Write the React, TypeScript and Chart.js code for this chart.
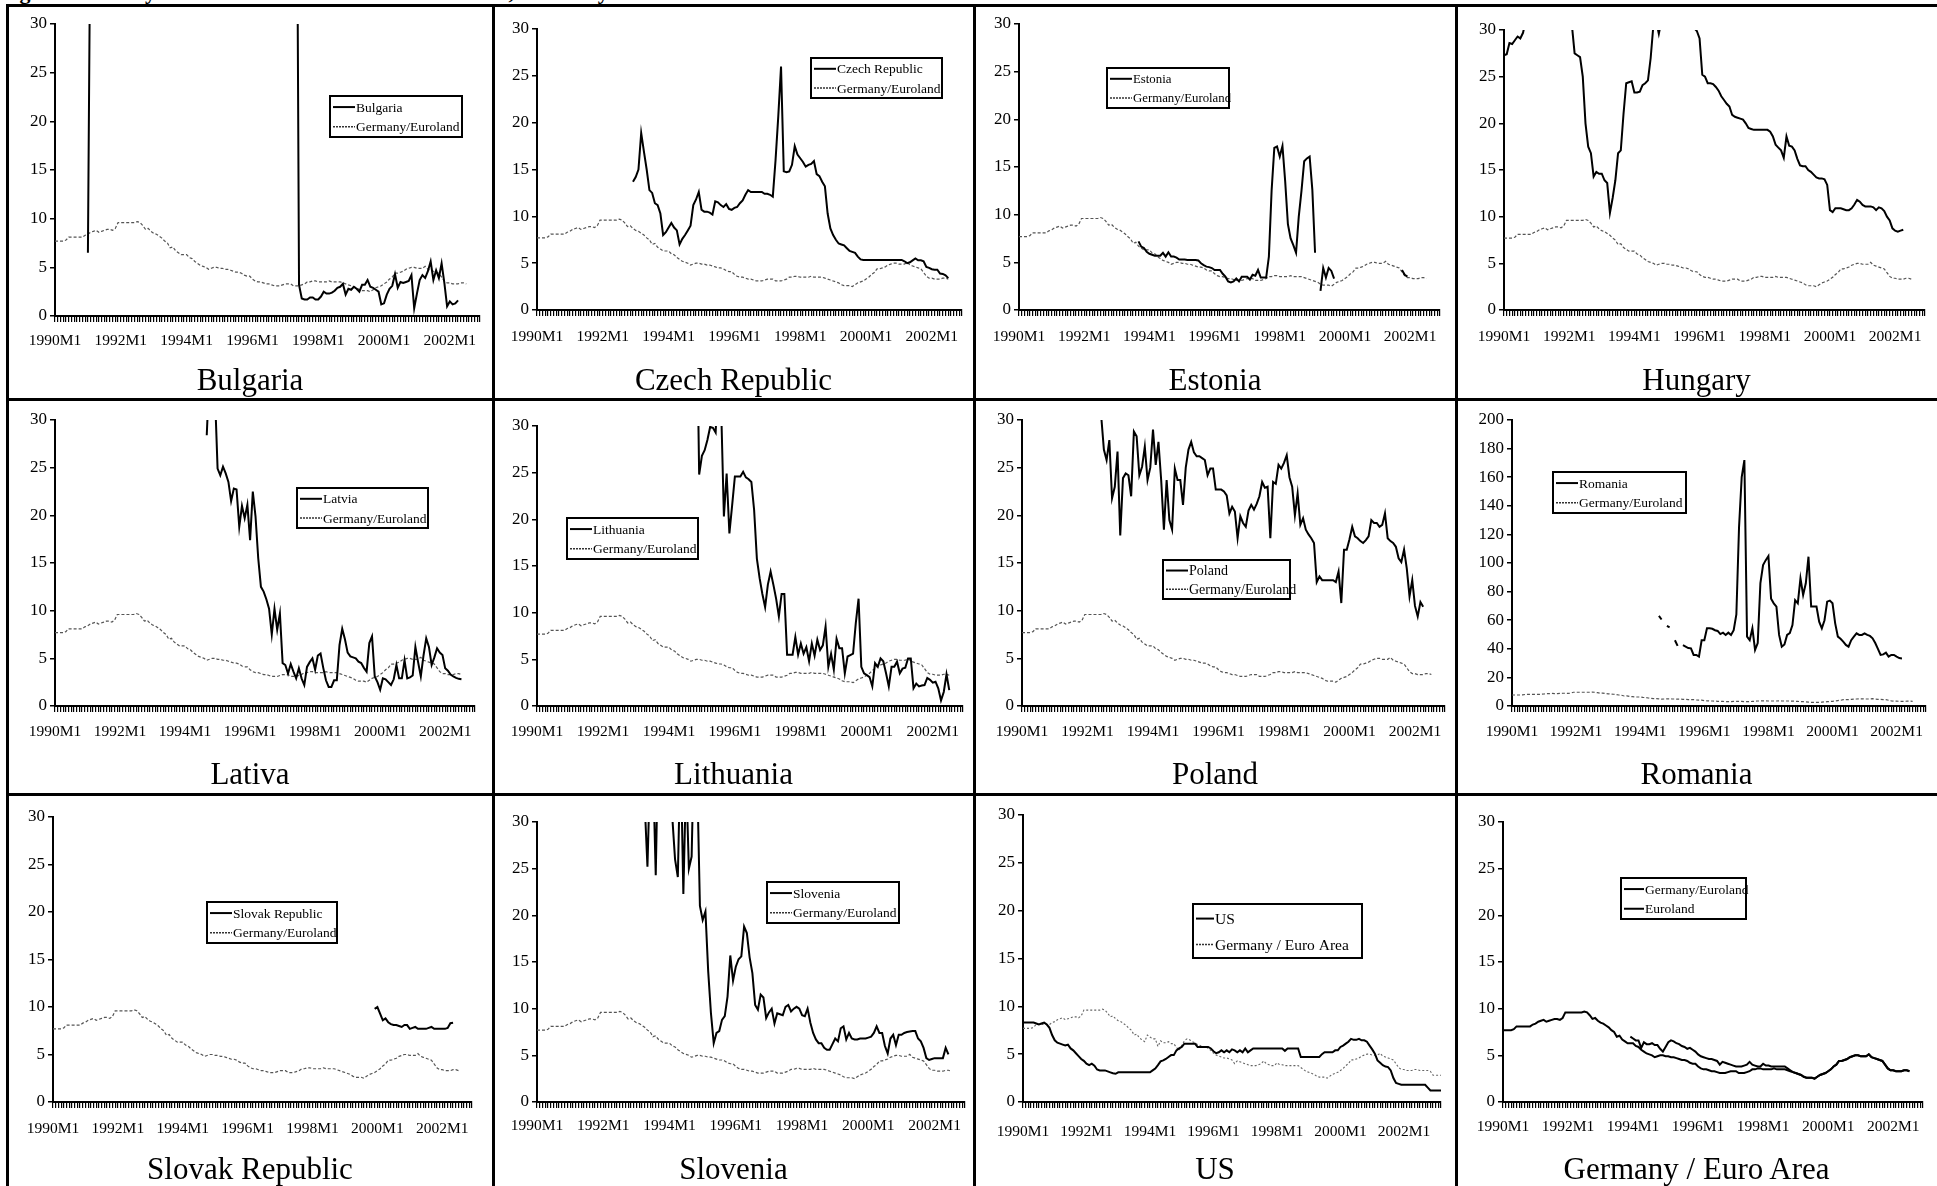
import React, { useEffect, useRef } from 'react';
import { Chart, registerables } from 'chart.js';
Chart.register(...registerables);

const FONT = "'Liberation Serif', 'Times New Roman', serif";
const N = null;

// Monthly categories 1990M1 ... (labelled every 24 months)
const START_YEAR = 1990;
const LABEL_EVERY = 24;
const monthLabels = (n: number): string[] =>
  Array.from({ length: n }, (_, i) => `${START_YEAR + Math.floor(i / 12)}M${(i % 12) + 1}`);

// ---------------- data (percent, monthly) ----------------
const germanyEuroland: (number | null)[] = [
  7.7, 7.7, 7.7, 7.7, 7.8, 8.1, 8.1, 8.1, 8.1, 8.1, 8.1, 8.3,
  8.4, 8.6, 8.7, 8.8, 8.6, 8.7, 8.8, 8.9, 8.9, 8.8, 9.0, 9.6,
  9.6, 9.6, 9.6, 9.6, 9.6, 9.6, 9.7, 9.6, 9.3, 8.9, 9.0, 8.7,
  8.5, 8.4, 8.2, 8.0, 7.7, 7.5, 7.0, 7.1, 6.7, 6.5, 6.3, 6.3,
  6.3, 6.0, 5.9, 5.6, 5.4, 5.2, 5.1, 5.0, 4.8, 4.9, 5.0, 5.0,
  4.9, 4.9, 4.8, 4.8, 4.7, 4.6, 4.5, 4.5, 4.4, 4.2, 4.1, 4.1,
  3.8, 3.6, 3.5, 3.5, 3.4, 3.3, 3.3, 3.2, 3.1, 3.1, 3.1, 3.2,
  3.3, 3.3, 3.3, 3.1, 3.1, 3.1, 3.2, 3.3, 3.5, 3.5, 3.6, 3.6,
  3.5, 3.5, 3.5, 3.5, 3.6, 3.5, 3.5, 3.5, 3.5, 3.4, 3.3, 3.2,
  3.1, 3.0, 2.9, 2.7, 2.6, 2.6, 2.6, 2.5, 2.7, 2.9, 3.0, 3.1,
  3.3, 3.5, 3.8, 4.0, 4.4, 4.4, 4.5, 4.6, 4.8, 4.9, 5.0, 5.0,
  4.9, 4.9, 4.9, 5.1, 4.8, 4.7, 4.6, 4.5, 4.4, 4.0, 3.6, 3.4,
  3.4, 3.3, 3.3, 3.3, 3.4, 3.4, 3.3, N, N, N, N, N,
];

const euroland: (number | null)[] = [
  N, N, N, N, N, N, N, N, N, N, N, N,
  N, N, N, N, N, N, N, N, N, N, N, N,
  N, N, N, N, N, N, N, N, N, N, N, N,
  N, N, N, N, N, N, N, N, N, N, N, 7.0,
  6.8, 6.6, 6.6, 5.8, 6.4, 6.2, 6.2, 6.3, 6.1, 6.1, 5.7, 5.4,
  5.9, 6.4, 6.6, 6.5, 6.3, 6.2, 6.0, 5.9, 5.7, 5.8, 5.6, 5.4,
  5.1, 4.9, 4.8, 4.7, 4.6, 4.6, 4.5, 4.4, 4.0, 4.3, 4.2, 4.1,
  4.0, 3.9, 3.8, 3.8, 3.8, 3.9, 4.0, 4.3, 4.0, 3.9, 3.8, 3.8,
  4.1, 3.9, 3.9, 3.8, 3.8, 3.8, 3.8, 3.8, 3.8, 3.6, 3.4, 3.2,
  3.1, 3.0, 2.9, 2.7, 2.6, 2.6, 2.6, 2.5, 2.7, 2.9, 3.0, 3.1,
  3.3, 3.5, 3.8, 4.0, 4.4, 4.4, 4.5, 4.6, 4.8, 4.9, 5.0, 5.0,
  4.9, 4.9, 4.9, 5.1, 4.8, 4.7, 4.6, 4.5, 4.4, 4.0, 3.6, 3.4,
  3.4, 3.3, 3.3, 3.3, 3.4, 3.4, 3.3, 3.3, 3.3, 3.3, 3.2, 2.8,
  2.8, 2.8, 2.8,
];

const bulgaria: (number | null)[] = [
  N, N, N, N, N, N, N, N, N, N, N, N,
  6.5, 45, 48, 50, 52, 51, 50, 49, 48, 47, 47, 46,
  47, 48, 49, 50, 52, 55, 55, 55, 53, 50, 48, 46,
  45, 44, 44, 45, 46, 48, 50, 52, 54, 56, 58, 60,
  62, 64, 66, 70, 72, 72, 70, 68, 66, 65, 64, 63,
  60, 58, 56, 54, 50, 45, 42, 40, 38, 38, 38, 40,
  45, 50, 60, 80, 110, 130, 150, 200, 250, 300, 300, 280,
  300, 350, 200, 120, 60, 3.2, 1.8, 1.7, 1.7, 1.9, 1.9, 1.7,
  1.7, 2.0, 2.5, 2.3, 2.3, 2.4, 2.6, 2.9, 3.0, 3.3, 2.2, 2.8,
  2.7, 3.0, 2.8, 2.5, 3.2, 3.2, 3.7, 3.0, 2.9, 2.7, 2.5, 1.2,
  1.3, 2.2, 2.8, 3.1, 4.3, 2.9, 3.5, 3.4, 3.5, 3.6, 4.2, 0.8,
  2.3, 3.7, 4.2, 3.9, 4.6, 5.6, 3.7, 4.7, 3.9, 5.4, 3.4, 1.0,
  1.5, 1.2, 1.3, 1.6, N, N, N, N, N, N, N, N,
];

const czech: (number | null)[] = [
  N, N, N, N, N, N, N, N, N, N, N, N,
  N, N, N, N, N, N, N, N, N, N, N, N,
  N, N, N, N, N, N, N, N, N, N, N, 13.7,
  14.2, 15.0, 18.9, 16.9, 15.0, 12.8, 12.5, 11.4, 11.2, 10.3, 8.0, 8.3,
  8.8, 9.3, 8.8, 8.5, 7.0, 7.6, 8.0, 8.5, 9.0, 11.2, 11.8, 12.6,
  10.7, 10.5, 10.5, 10.4, 10.2, 11.6, 11.5, 11.2, 11.0, 11.3, 10.8, 10.7,
  10.9, 11.0, 11.4, 11.7, 12.3, 12.8, 12.6, 12.6, 12.6, 12.6, 12.6, 12.4,
  12.4, 12.3, 12.1, 16.0, 20.7, 26.0, 14.8, 14.7, 14.8, 15.5, 17.5, 16.6,
  16.2, 15.8, 15.3, 15.5, 15.6, 15.9, 14.5, 14.3, 13.7, 13.2, 10.3, 8.7,
  8.0, 7.5, 7.1, 7.0, 6.9, 6.6, 6.3, 6.2, 6.1, 5.7, 5.4, 5.35,
  5.35, 5.35, 5.35, 5.35, 5.35, 5.35, 5.35, 5.35, 5.35, 5.35, 5.35, 5.35,
  5.35, 5.35, 5.2, 5.0, 5.1, 5.3, 5.5, 5.3, 5.3, 5.2, 4.6, 4.5,
  4.35, 4.3, 4.3, 3.9, 3.85, 3.7, 3.4, N, N, N, N, N,
];

const estonia: (number | null)[] = [
  N, N, N, N, N, N, N, N, N, N, N, N,
  N, N, N, N, N, N, N, N, N, N, N, N,
  N, N, N, N, N, N, N, N, N, N, N, N,
  N, N, N, N, N, N, N, N, 7.2, 6.65, 6.5, 6.1,
  5.9, 5.8, 5.7, 5.7, 5.7, 6.0, 5.6, 6.05, 5.6, 5.6, 5.5, 5.3,
  5.3, 5.3, 5.25, 5.25, 5.25, 5.25, 5.2, 4.9, 4.7, 4.55, 4.5, 4.4,
  4.2, 4.2, 4.2, 3.8, 3.5, 3.0, 2.9, 3.0, 3.3, 3.0, 3.5, 3.5,
  3.5, 3.2, 3.7, 3.6, 4.2, 3.4, 3.4, 3.4, 5.6, 12.5, 17.0, 17.15,
  16.1, 17.2, 13.5, 9.0, 7.5, 6.8, 6.0, 9.8, 12.5, 15.6, 15.9, 16.1,
  12.6, 6.0, N, 2.0, 4.4, 3.4, 4.4, 4.1, 3.3, N, N, N,
  N, N, N, N, N, N, N, N, N, N, N, N,
  N, N, N, N, N, N, N, N, N, 4.2, 3.7, 3.5,
  N, N, N, N, N, N, N, N, N, N, N, N,
];

const hungary: (number | null)[] = [
  27.3, 27.4, 28.6, 28.5, 28.9, 29.3, 29.1, 29.7, 31, 32, 33, 34,
  35, 35, 34, 34, 33, 33, 33, 32, 32, 32, 31, 31,
  31, 30.5, 27.5, 27.3, 27.1, 25, 20, 17.5, 16.8, 14.3, 14.8, 14.6,
  14.6, 13.9, 13.6, 10.4, 12, 13.9, 16.8, 17.1, 21, 24.3, 24.4, 24.5,
  23.3, 23.3, 23.4, 24.1, 24.3, 24.6, 27, 30.5, 31, 29.6, 31, 32,
  33, 33, 32, 32, 31, 31, 31, 31, 32, 31, 30.2, 29.9,
  29.1, 25.2, 25.0, 24.3, 24.3, 24.2, 23.9, 23.5, 22.9, 22.5, 22.1, 21.8,
  20.9, 20.7, 20.6, 20.5, 20.4, 20.0, 19.5, 19.4, 19.3, 19.3, 19.3, 19.3,
  19.3, 19.3, 19.1, 18.6, 17.7, 17.4, 17.1, 16.3, 18.6, 17.6, 17.5, 17.1,
  16.2, 15.5, 15.4, 15.4, 15.0, 14.8, 14.5, 14.2, 14.1, 14.1, 14.0, 13.4,
  10.7, 10.5, 10.9, 10.9, 10.9, 10.8, 10.7, 10.7, 10.9, 11.3, 11.8, 11.6,
  11.25, 11.1, 11.1, 11.1, 11.0, 10.7, 11.0, 10.9, 10.6, 10.0, 9.6, 8.75,
  8.5, 8.4, 8.5, 8.6, N, N, N, N, N, N, N, N,
];

const latvia: (number | null)[] = [
  N, N, N, N, N, N, N, N, N, N, N, N,
  N, N, N, N, N, N, N, N, N, N, N, N,
  N, N, N, N, N, N, N, N, N, N, N, N,
  N, N, N, N, N, N, N, N, N, N, N, N,
  N, N, N, N, N, N, N, N, 28.4, 35, 34, 33,
  24.9, 24.2, 25.1, 24.4, 23.5, 21.5, 22.8, 22.7, 18.8, 21.0, 19.7, 21.1,
  17.4, 22.5, 19.9, 15.5, 12.5, 12.0, 11.2, 10.2, 7.5, 10.2, 8.0, 9.7,
  4.5, 4.3, 3.4, 4.4, 3.6, 2.9, 3.95, 2.9, 2.2, 4.1, 4.6, 5.0,
  3.8, 5.3, 5.5, 4.0, 2.7, 2.0, 2.0, 2.7, 2.7, 6.4, 8.1, 7.0,
  5.6, 5.2, 5.1, 5.0, 4.65, 4.5, 4.0, 3.6, 6.6, 7.3, 3.1, 2.5,
  1.7, 2.9, 2.8, 2.5, 2.2, 2.8, 4.3, 2.9, 2.9, 4.8, 2.9, 3.0,
  3.2, 6.2, 4.6, 3.1, 5.3, 7.1, 6.2, 4.3, 5.1, 6.05, 5.6, 5.35,
  3.95, 3.7, 3.3, 3.1, 2.95, 2.85, 2.8, N, N, N, N, N,
];

const lithuania: (number | null)[] = [
  N, N, N, N, N, N, N, N, N, N, N, N,
  N, N, N, N, N, N, N, N, N, N, N, N,
  N, N, N, N, N, N, N, N, N, N, N, N,
  N, N, N, N, N, N, N, N, N, N, N, N,
  N, N, N, N, N, N, N, N, N, N, 45, 24.8,
  26.8, 27.4, 28.5, 29.9, 29.8, 29.3, 36, 32, 20.3, 24.9, 18.5, 21.5,
  24.6, 24.6, 24.6, 25.1, 24.5, 24.3, 24.0, 21, 15.8, 13.7, 12, 10.6,
  13.0, 14.4, 13.0, 11.5, 9.6, 12.0, 12.0, 5.5, 5.5, 5.5, 7.4, 5.5,
  6.7, 5.6, 6.3, 4.8, 6.7, 5.4, 7.1, 6.0, 6.5, 8.5, 4.2, 5.6,
  3.9, 7.2, 6.2, 6.2, 3.5, 5.3, 5.45, 5.6, 8.9, 11.5, 4.2, 3.5,
  3.3, 3.1, 2.1, 4.6, 4.2, 5.1, 4.8, 3.5, 2.1, 4.2, 4.2, 4.75,
  3.5, 4.0, 4.1, 5.1, 5.1, 1.9, 2.4, 2.1, 2.2, 2.25, 3.0, 2.8,
  2.5, 2.6, 1.9, 0.6, 1.5, 3.4, 1.7, N, N, N, N, N,
];

const poland: (number | null)[] = [
  N, N, N, N, N, N, N, N, N, N, N, N,
  N, N, N, N, N, N, N, N, N, N, N, N,
  N, N, N, N, N, 30.5, 26.9, 25.8, 27.9, 21.8, 23.0, 26.7,
  17.9, 23.9, 24.4, 24.2, 22.0, 28.8, 28.3, 24.2, 25.1, 27.2, 23.7, 25.0,
  29.0, 25.3, 27.7, 23.7, 18.5, 23.7, 19.5, 18.5, 24.9, 23.7, 23.7, 21.1,
  25.0, 26.9, 27.7, 26.6, 26.2, 26.2, 26.0, 25.8, 24.2, 24.9, 24.9, 22.7,
  22.7, 22.7, 22.5, 22.1, 20.2, 20.9, 20.4, 17.6, 19.9, 19.2, 18.8, 20.5,
  21.1, 20.6, 21.2, 22.0, 23.5, 22.9, 23.0, 17.6, 23.5, 23.3, 25.3, 24.9,
  25.5, 26.3, 24.0, 23.0, 20.0, 22.3, 19.0, 19.7, 18.5, 18.0, 17.6, 17.1,
  13.0, 13.6, 13.2, 13.2, 13.2, 13.2, 13.2, 13.0, 14.1, 10.8, 16.4, 16.4,
  17.5, 18.8, 17.8, 17.6, 17.3, 17.1, 17.4, 17.8, 19.5, 19.2, 19.2, 18.8,
  19.0, 20.2, 17.6, 17.3, 17.1, 16.7, 15.5, 15.1, 16.4, 14.4, 11.5, 13.2,
  10.5, 9.4, 10.9, 10.4, N, N, N, N, N, N, N, N,
];

const romania: (number | null)[] = [
  N, N, N, N, N, N, N, N, N, N, N, N,
  N, N, N, N, N, N, N, N, N, N, N, N,
  N, N, N, N, N, N, N, N, N, N, N, N,
  N, N, N, N, N, N, N, N, N, N, N, N,
  N, N, N, N, N, N, N, 63, 60.5, N, 56, 55,
  N, 46, 42, N, 42.5, 41.5, 40.5, 40.3, 35.7, 35.7, 34.5, 46,
  46, 54.3, 54.3, 54, 53, 52.5, 50.3, 51.3, 49.7, 51.3, 49.7, 53,
  64, 125, 160, 172, 48.5, 46, 54.3, 39.2, 44, 86, 98.6, 102,
  104.9, 75, 71.8, 69.5, 49.7, 41.5, 43, 49.7, 51, 56.6, 74, 71.8,
  89.3, 77.6, 85.8, 104.4, 69.5, 69.5, 69.5, 59, 54.3, 60, 73, 73.7,
  71.8, 57.8, 48.5, 47, 45, 42.7, 41.5, 46, 48.5, 50.8, 49.7, 49.7,
  50.8, 49.7, 49, 47.3, 44, 40, 35.7, 36.1, 37.3, 34.5, 35.7, 35.7,
  34.5, 33.5, 33.3, N, N, N, N, N, N, N, N, N,
];

const slovak: (number | null)[] = [
  N, N, N, N, N, N, N, N, N, N, N, N,
  N, N, N, N, N, N, N, N, N, N, N, N,
  N, N, N, N, N, N, N, N, N, N, N, N,
  N, N, N, N, N, N, N, N, N, N, N, N,
  N, N, N, N, N, N, N, N, N, N, N, N,
  N, N, N, N, N, N, N, N, N, N, N, N,
  N, N, N, N, N, N, N, N, N, N, N, N,
  N, N, N, N, N, N, N, N, N, N, N, N,
  N, N, N, N, N, N, N, N, N, N, N, N,
  N, N, N, N, N, N, N, N, N, N, N, 9.8,
  10.0, 9.3, 8.6, 8.8, 8.4, 8.2, 8.1, 8.1, 8.0, 7.9, 8.1, 8.1,
  7.7, 7.8, 7.9, 7.7, 7.7, 7.7, 7.7, 7.8, 7.9, 7.7, 7.7, 7.7,
  7.7, 7.7, 7.8, 8.3, 8.35, N, N, N, N, N, N, N,
];

const slovenia: (number | null)[] = [
  N, N, N, N, N, N, N, N, N, N, N, N,
  N, N, N, N, N, N, N, N, N, N, N, N,
  N, N, N, N, N, N, N, N, N, N, N, N,
  N, N, 40, 32, 25.2, 36, 36, 24.3, 40, 45, 42, 40,
  40, 30.5, 26, 24.1, 38, 22.3, 35, 25, 26.3, 40, 35, 21,
  19.5, 20.4, 14, 9.5, 6.3, 7.4, 7.6, 8.8, 9.2, 11.3, 15.7, 13,
  14.5, 15.3, 15.6, 18.8, 18.1, 15.5, 13.8, 10.4, 9.9, 11.5, 11.2, 9.0,
  9.6, 10.0, 8.4, 9.5, 9.4, 9.3, 10.2, 10.4, 9.7, 10.0, 10.2, 10.0,
  9.3, 9.2, 10.0, 8.5, 7.4, 6.7, 6.3, 6.3, 5.8, 5.6, 5.6, 6.2,
  6.8, 6.5, 7.9, 8.1, 6.7, 7.4, 6.8, 6.7, 6.7, 6.8, 6.8, 6.8,
  6.9, 7.0, 7.4, 8.1, 7.4, 7.4, 6.0, 5.2, 6.8, 7.2, 6.1, 7.2,
  7.2, 7.4, 7.5, 7.55, 7.6, 7.6, 6.8, 6.5, 5.8, 4.7, 4.5, 4.6,
  4.7, 4.7, 4.7, 4.7, 5.8, 5.1, N, N, N, N, N, N,
];

const us: (number | null)[] = [
  8.3, 8.3, 8.3, 8.3, 8.3, 8.2, 8.1, 8.2, 8.3, 8.1, 7.75, 7.0,
  6.45, 6.2, 6.1, 6.0, 5.9, 6.0, 5.6, 5.4, 5.1, 4.8, 4.5, 4.3,
  4.0, 3.85, 4.0, 3.8, 3.4, 3.3, 3.3, 3.3, 3.2, 3.1, 3.0, 2.95,
  3.1, 3.1, 3.1, 3.1, 3.1, 3.1, 3.1, 3.1, 3.1, 3.1, 3.1, 3.1,
  3.1, 3.3, 3.5, 3.85, 4.25, 4.35, 4.5, 4.7, 4.9, 4.9, 5.4, 5.6,
  5.75, 6.1, 6.1, 6.1, 6.1, 6.1, 5.75, 5.75, 5.75, 5.75, 5.75, 5.6,
  5.3, 5.1, 5.2, 5.4, 5.2, 5.4, 5.2, 5.5, 5.4, 5.2, 5.4, 5.2,
  5.6, 5.2, 5.4, 5.6, 5.6, 5.6, 5.6, 5.6, 5.6, 5.6, 5.6, 5.6,
  5.6, 5.6, 5.6, 5.35, 5.6, 5.6, 5.6, 5.6, 5.6, 4.7, 4.7, 4.7,
  4.7, 4.7, 4.7, 4.7, 4.7, 5.0, 5.2, 5.2, 5.2, 5.2, 5.4, 5.4,
  5.75, 5.9, 6.1, 6.3, 6.6, 6.5, 6.5, 6.6, 6.45, 6.45, 6.3, 5.9,
  5.5, 5.05, 4.35, 4.1, 3.85, 3.7, 3.65, 3.3, 2.5, 2.0, 1.9, 1.8,
  1.8, 1.8, 1.8, 1.8, 1.8, 1.8, 1.8, 1.8, 1.8, 1.5, 1.2, 1.2,
  1.2, 1.2, 1.2,
];

// benchmark shown in the US panel: Germany until end-1993, Euro area after
const EURO_AREA_FROM = 47;
const germanyEuroArea = euroland.map((v, i) => (i < EURO_AREA_FROM ? germanyEuroland[i] : v));
// Euroland in the last panel ends with the common series
const LAST_MONTH = 150;
const eurolandPanel = euroland.slice(0, 156).map((v, i) => (i <= LAST_MONTH ? v : null));

// ---------------- layout ----------------
const COL_X = [7, 493, 974, 1456, 1937];
const ROW_Y = [5, 399, 794, 1186];
const CANVAS_H = 362;

type Area = { l: number; r: number; t: number; b: number };
type Leg = { x: number; y: number; w: number; h: number; size: number; sample: number };
type Series = { label: string; data: (number | null)[]; kind: 'solid' | 'dotted' | 'thin' };
type PanelCfg = {
  title: string; col: number; row: number; series: Series[]; area: Area;
  legend: Leg | null; yMax: number; yStep: number; n: number; labelGap: number;
};

const GER = 'Germany/Euroland';
const std = (label: string, data: (number | null)[]): Series[] => [
  { label, data, kind: 'solid' },
  { label: GER, data: germanyEuroland, kind: 'dotted' },
];
const L = (x: number, y: number, w: number, h: number, size = 13.5, sample = 22): Leg => ({ x, y, w, h, size, sample });

const panels: PanelCfg[] = [
  { title: 'Bulgaria', col: 0, row: 0, series: std('Bulgaria', bulgaria), area: { l: 48, r: 473, t: 19, b: 311 }, legend: L(323, 91, 132, 41), yMax: 30, yStep: 5, n: 156, labelGap: 26 },
  { title: 'Czech Republic', col: 1, row: 0, series: std('Czech Republic', czech), area: { l: 44, r: 469, t: 24, b: 305 }, legend: L(318, 53, 131, 40), yMax: 30, yStep: 5, n: 156, labelGap: 28 },
  { title: 'Estonia', col: 2, row: 0, series: std('Estonia', estonia), area: { l: 45, r: 466, t: 19, b: 305 }, legend: L(133, 63, 122, 40, 12.8), yMax: 30, yStep: 5, n: 156, labelGap: 28 },
  { title: 'Hungary', col: 3, row: 0, series: std('Hungary', hungary), area: { l: 48, r: 474, t: 25, b: 305 }, legend: null, yMax: 30, yStep: 5, n: 156, labelGap: 28 },
  { title: 'Lativa', col: 0, row: 1, series: std('Latvia', latvia), area: { l: 48, r: 468, t: 21, b: 307 }, legend: L(290, 89, 131, 40), yMax: 30, yStep: 5, n: 156, labelGap: 27 },
  { title: 'Lithuania', col: 1, row: 1, series: std('Lithuania', lithuania), area: { l: 44, r: 470, t: 27, b: 307 }, legend: L(74, 119, 131, 41), yMax: 30, yStep: 5, n: 156, labelGap: 27 },
  { title: 'Poland', col: 2, row: 1, series: std('Poland', poland), area: { l: 48, r: 481, t: 21, b: 307 }, legend: L(189, 161, 127, 39, 14), yMax: 30, yStep: 5, n: 156, labelGap: 27 },
  { title: 'Romania', col: 3, row: 1, series: std('Romania', romania), area: { l: 56, r: 472, t: 21, b: 307 }, legend: L(97, 73, 133, 41), yMax: 200, yStep: 20, n: 156, labelGap: 27 },
  { title: 'Slovak Republic', col: 0, row: 2, series: std('Slovak Republic', slovak), area: { l: 46, r: 465, t: 23, b: 308 }, legend: L(200, 108, 130, 41), yMax: 30, yStep: 5, n: 156, labelGap: 28 },
  { title: 'Slovenia', col: 1, row: 2, series: std('Slovenia', slovenia), area: { l: 44, r: 475, t: 28, b: 308 }, legend: L(274, 88, 132, 41), yMax: 30, yStep: 5, n: 156, labelGap: 25 },
  {
    title: 'US', col: 2, row: 2,
    series: [{ label: 'US', data: us, kind: 'solid' }, { label: 'Germany / Euro Area', data: germanyEuroArea, kind: 'thin' }],
    area: { l: 49, r: 481, t: 21, b: 308 }, legend: L(219, 110, 169, 54, 15.5, 18), yMax: 30, yStep: 5, n: 159, labelGap: 31,
  },
  {
    title: 'Germany / Euro Area', col: 3, row: 2,
    series: [{ label: 'Germany/Euroland', data: germanyEuroland, kind: 'solid' }, { label: 'Euroland', data: eurolandPanel, kind: 'solid' }],
    area: { l: 47, r: 467, t: 28, b: 308 }, legend: L(165, 84, 125, 41, 13.5, 20), yMax: 30, yStep: 5, n: 156, labelGap: 26,
  },
];

const styleFor = (kind: Series['kind']) => {
  if (kind === 'solid') return { borderColor: '#000', borderWidth: 2, borderDash: [] as number[] };
  if (kind === 'thin') return { borderColor: '#666', borderWidth: 1.1, borderDash: [2, 2] };
  return { borderColor: '#555', borderWidth: 1.2, borderDash: [3, 2] };
};

const boxLegend = {
  id: 'boxLegend',
  afterDatasetsDraw(chart: any, _args: any, opts: any) {
    if (!opts || !opts.w) return;
    const ctx = chart.ctx as CanvasRenderingContext2D;
    ctx.save();
    ctx.fillStyle = '#fff';
    ctx.fillRect(opts.x, opts.y, opts.w, opts.h);
    ctx.lineWidth = 2;
    ctx.strokeStyle = '#000';
    ctx.setLineDash([]);
    ctx.strokeRect(opts.x, opts.y, opts.w, opts.h);
    const ds = chart.data.datasets;
    ds.forEach((d: any, i: number) => {
      const cy = opts.y + opts.h * (i === 0 ? 0.27 : 0.75);
      const dashed = d.borderDash && d.borderDash.length;
      ctx.beginPath();
      ctx.setLineDash(dashed ? [2, 1] : []);
      ctx.lineWidth = dashed ? 1.6 : 2;
      ctx.strokeStyle = dashed ? '#333' : '#000';
      ctx.moveTo(opts.x + 3, cy);
      ctx.lineTo(opts.x + 3 + opts.sample, cy);
      ctx.stroke();
      ctx.setLineDash([]);
      ctx.fillStyle = '#000';
      ctx.font = `${opts.size}px ${FONT}`;
      ctx.textBaseline = 'middle';
      ctx.textAlign = 'left';
      ctx.fillText(d.label, opts.x + 4 + opts.sample, cy + 1);
    });
    ctx.restore();
  },
};

function Panel({ cfg }: { cfg: PanelCfg }) {
  const ref = useRef<HTMLCanvasElement | null>(null);
  const left = COL_X[cfg.col];
  const top = ROW_Y[cfg.row];
  const width = COL_X[cfg.col + 1] - left;
  const height = ROW_Y[cfg.row + 1] - top;

  useEffect(() => {
    if (!ref.current) return;
    const labels = monthLabels(cfg.n);
    const a = cfg.area;
    const chart = new Chart(ref.current, {
      type: 'line',
      data: {
        labels,
        datasets: cfg.series.map((s) => ({
          label: s.label,
          data: s.data.slice(0, cfg.n),
          ...styleFor(s.kind),
          pointRadius: 0,
          tension: 0,
          spanGaps: false,
          fill: false,
        })),
      },
      options: {
        responsive: false,
        maintainAspectRatio: false,
        animation: false,
        events: [],
        layout: { padding: { left: 0, top: a.t, right: width - a.r, bottom: 0 } },
        plugins: {
          legend: { display: false },
          tooltip: { enabled: false },
          title: { display: false },
          boxLegend: cfg.legend || {},
        } as any,
        scales: {
          x: {
            type: 'category',
            offset: false,
            grid: { display: true, drawOnChartArea: false, drawTicks: true, tickLength: 6, color: '#000', lineWidth: 1.2, offset: false },
            border: { display: true, color: '#000', width: 2 },
            ticks: {
              autoSkip: false,
              maxRotation: 0,
              minRotation: 0,
              padding: cfg.labelGap - 16,
              color: '#000',
              font: { family: FONT, size: 15.5 },
              callback: (_v: any, i: number) => (i % LABEL_EVERY === 0 ? labels[i] : ''),
            },
            afterFit: (s: any) => { s.height = CANVAS_H - a.b; },
          },
          y: {
            min: 0,
            max: cfg.yMax,
            grid: { display: true, drawOnChartArea: false, drawTicks: true, tickLength: 5, color: '#000', lineWidth: 1.5 },
            border: { display: true, color: '#000', width: 2 },
            ticks: { stepSize: cfg.yStep, padding: 3, color: '#000', font: { family: FONT, size: 17 } },
            afterFit: (s: any) => { s.width = a.l; },
          },
        },
      } as any,
      plugins: [boxLegend as any],
    });
    return () => chart.destroy();
  }, []);

  return (
    <div style={{ position: 'absolute', left, top, width, height, overflow: 'hidden' }}>
      <canvas ref={ref} width={width} height={CANVAS_H} style={{ position: 'absolute', left: 0, top: 0, width, height: CANVAS_H }} />
      <div
        style={{
          position: 'absolute', left: 0, top: 359, width: '100%', textAlign: 'center',
          fontFamily: FONT, fontSize: 31, lineHeight: '31px', whiteSpace: 'nowrap', color: '#000',
        }}
      >
        {cfg.title}
      </div>
    </div>
  );
}

export default function App() {
  const lineStyle = { position: 'absolute' as const, background: '#000' };
  return (
    <div style={{ position: 'absolute', left: 0, top: 0, width: 1937, height: 1186, overflow: 'hidden', background: '#fff' }}>
      <div
        style={{
          position: 'absolute', left: 0, top: -19, whiteSpace: 'nowrap', fontFamily: FONT,
          fontWeight: 'bold', fontSize: 22, lineHeight: '22px', color: '#000',
        }}
      >
        Figure 3: Money Market Rates in Accession Countries, Germany/Euroland and US
      </div>
      {panels.map((p) => <Panel key={p.title} cfg={p} />)}
      {[5, 399, 794].map((y) => (
        <div key={'h' + y} style={{ ...lineStyle, left: 6, top: y - 1, width: 1931, height: 3 }} />
      ))}
      {[7, 493, 974, 1456].map((x) => (
        <div key={'v' + x} style={{ ...lineStyle, left: x - 1, top: 4, width: 3, height: 1182 }} />
      ))}
    </div>
  );
}
